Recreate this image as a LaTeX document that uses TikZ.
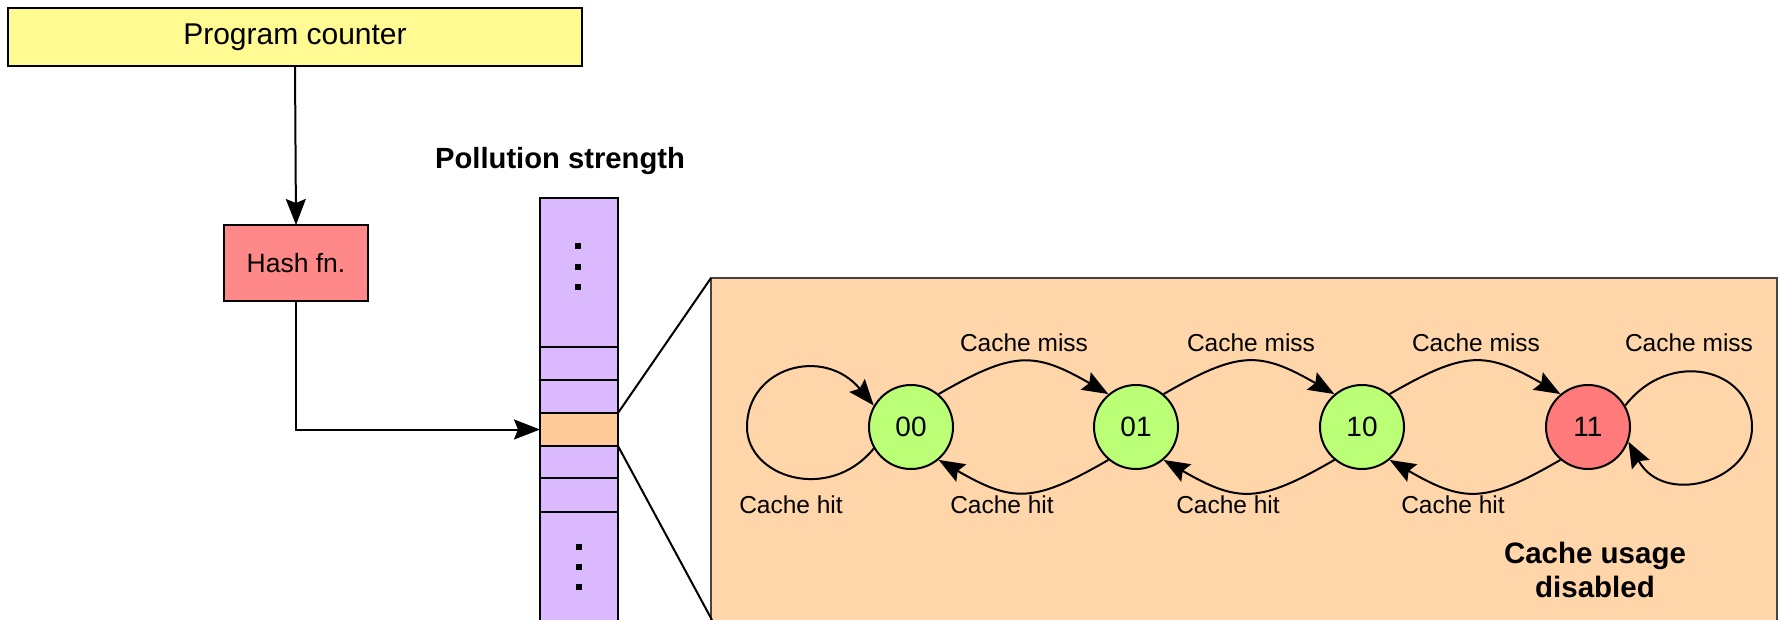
\documentclass[tikz,border=0pt]{standalone}
\usepackage{fontspec}
\setmainfont{Liberation Sans}
\usetikzlibrary{arrows.meta}
\definecolor{pcyellow}{RGB}{255,250,145}
\definecolor{hashred}{RGB}{255,136,136}
\definecolor{colpurple}{RGB}{219,185,255}
\definecolor{roworange}{RGB}{255,204,153}
\definecolor{boxpeach}{RGB}{255,213,170}
\definecolor{stgreen}{RGB}{187,255,119}
\definecolor{stred}{RGB}{255,122,122}
\definecolor{boxborder}{RGB}{68,68,68}
\tikzset{
  boxnode/.style={draw=black, line width=2.2pt, inner sep=0pt, outer sep=0pt},
  cell/.style={draw=black, line width=2pt, fill=colpurple, minimum width=78pt, inner sep=0pt, outer sep=0pt, anchor=north west},
  state/.style={circle, draw=black, line width=2pt, minimum size=84pt, inner sep=0pt, font=\fontsize{28}{30}\selectfont},
  conn/.style={line width=2pt, -{Stealth[length=26pt,width=20pt,inset=4pt]}},
  lbl/.style={font=\fontsize{24.5}{28}\selectfont, inner sep=0pt},
  dotsq/.style={fill=black, minimum size=5.5pt, inner sep=0pt},
}
\begin{document}
\begin{tikzpicture}[x=1pt,y=-1pt]
\useasboundingbox (0,0) rectangle (1779,620);
\clip (0,0) rectangle (1779,620);
% big zoomed box
\node[draw=boxborder, line width=2.5pt, fill=boxpeach, minimum width=1066pt, minimum height=346pt, anchor=north west, inner sep=0pt, outer sep=0pt] (big) at (711,278) {};
% program counter and hash
\node[boxnode, fill=pcyellow, minimum width=574pt, minimum height=58pt, font=\fontsize{30}{32}\selectfont] (pc) at (295,37) {Program counter};
\node[boxnode, fill=hashred, minimum width=144pt, minimum height=76pt, font=\fontsize{26.5}{30}\selectfont] (hash) at (296,263) {Hash fn.};
\draw[conn] (pc.south) -- (hash.north);
% column
\node[font=\bfseries\fontsize{29.2}{32}\selectfont] (title) at (560,161) {Pollution strength};
\node[cell, minimum height=149pt] (r0) at (540,198) {};
\node[cell, minimum height=33pt] (r1) at (540,347) {};
\node[cell, minimum height=33pt] (r2) at (540,380) {};
\node[cell, minimum height=33pt, fill=roworange] (r3) at (540,413) {};
\node[cell, minimum height=32pt] (r4) at (540,446) {};
\node[cell, minimum height=34pt] (r5) at (540,478) {};
\node[cell, minimum height=130pt] (r6) at (540,512) {};
\foreach \y [count=\i] in {246,267,287} {\node[dotsq] (dt\i) at (578,\y) {};}
\foreach \y [count=\i] in {547,567,587} {\node[dotsq] (db\i) at (579,\y) {};}
\draw[conn] (hash.south) |- (r3.west);
% zoom lines
\coordinate (bl) at (712,620);
\draw[line width=2pt] (r3.north east) -- (big.north west);
\draw[line width=2pt] (r3.south east) -- (bl);
% states
\node[state, fill=stgreen] (s00) at (911,427) {00};
\node[state, fill=stgreen] (s01) at (1136,427) {01};
\node[state, fill=stgreen] (s10) at (1362,427) {10};
\node[state, fill=stred] (s11) at (1588,427) {11};
% miss arcs
\draw[conn] (s00.50) to[out=30,in=150,looseness=1.3] (s01.130);
\draw[conn] (s01.50) to[out=30,in=150,looseness=1.3] (s10.130);
\draw[conn] (s10.50) to[out=30,in=150,looseness=1.3] (s11.130);
% hit arcs
\draw[conn] (s01.230) to[out=210,in=-30,looseness=1.3] (s00.-50);
\draw[conn] (s10.230) to[out=210,in=-30,looseness=1.3] (s01.-50);
\draw[conn] (s11.230) to[out=210,in=-30,looseness=1.3] (s10.-50);
% self loop turning points
\coordinate (ll) at ([shift={(-164,0)}]s00.center);
\coordinate (rr) at ([shift={(164,0)}]s11.center);
% self loops
\draw[conn] (s00.210) .. controls +(-45,55) and +(0,50) .. (ll)
  .. controls +(0,-60) and +(-50,-60) .. (s00.150);
\draw[conn] (s11.30) .. controls +(45,-58) and +(0,-58) .. (rr)
  .. controls +(0,55) and +(35,65) .. (s11.-20);
% labels
\node[lbl] (m1) at (1024,343) {Cache miss};
\node[lbl] (m2) at (1251,343) {Cache miss};
\node[lbl] (m3) at (1476,343) {Cache miss};
\node[lbl] (m4) at (1689,343) {Cache miss};
\node[lbl] (h0) at (791,505) {Cache hit};
\node[lbl] (h1) at (1002,505) {Cache hit};
\node[lbl] (h2) at (1228,505) {Cache hit};
\node[lbl] (h3) at (1453,505) {Cache hit};
\node[font=\bfseries\fontsize{29.5}{34}\selectfont, align=center, inner sep=0pt] (dis) at (1595,570) {Cache usage\\disabled};
\end{tikzpicture}
\end{document}
